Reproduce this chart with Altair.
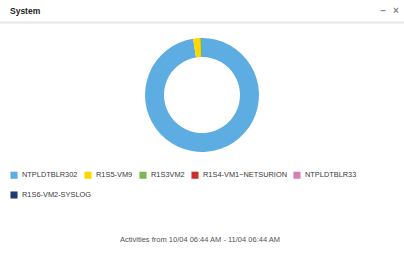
import altair as alt
import pandas as pd

hosts = ["NTPLDTBLR302", "R1S5-VM9", "R1S3VM2", "R1S4-VM1~NETSURION", "NTPLDTBLR33", "R1S6-VM2-SYSLOG"]
counts = [97.5, 2.0, 0.5, 0.0, 0.0, 0.0]
colors = ["#5dade2", "#ffd700", "#7cb552", "#c9302c", "#d77fb2", "#1f3a6e"]
title_text = "System"
footer_text = "Activities from 10/04 06:44 AM - 11/04 06:44 AM"

df = pd.DataFrame({"host": hosts, "count": counts, "order": list(range(len(hosts)))})

FONT = "Liberation Sans"

legend_common = dict(
    title=None,
    orient="none",
    direction="horizontal",
    symbolType="square",
    symbolSize=50,
    symbolStrokeWidth=0,
    symbolOpacity=1,
    labelFont=FONT,
    labelFontSize=7.4,
    labelColor="#3a3a3a",
    columnPadding=6,
    labelOffset=4,
)

arc = alt.Chart(df).mark_arc(outerRadius=57, innerRadius=38, stroke=None).encode(
    theta=alt.Theta("count:Q", stack=True),
    order=alt.Order("order:Q"),
    color=alt.Color(
        "host:N",
        scale=alt.Scale(domain=hosts, range=colors),
        sort=hosts,
        legend=alt.Legend(values=hosts[:5], legendX=10, legendY=171, **legend_common),
    ),
    x=alt.value(202),
    y=alt.value(95),
)

# second legend row (wrapped item)
row2 = alt.Chart(df).transform_filter(
    alt.datum.host == hosts[5]
).mark_square(opacity=0, size=0).encode(
    fill=alt.Fill(
        "host:N",
        scale=alt.Scale(domain=hosts[5:], range=colors[5:]),
        legend=alt.Legend(legendX=10, legendY=191, **legend_common),
    ),
    x=alt.value(202),
    y=alt.value(95),
)

hdr = pd.DataFrame({"t": [title_text]})
title = alt.Chart(hdr).mark_text(
    font=FONT, fontSize=8.5, fontWeight="bold", align="left", baseline="middle", color="#222222"
).encode(text="t:N", x=alt.value(10), y=alt.value(11))

icons = alt.Chart(pd.DataFrame({"t": ["–", "×"], "px": [383, 396]})).mark_text(
    font=FONT, fontSize=10, fontWeight="bold", align="center", baseline="middle", color="#888888"
).encode(text="t:N", x=alt.X("px:Q", scale=None), y=alt.value(11))

sep = alt.Chart(hdr).mark_rule(color="#ebebeb", strokeWidth=2.5).encode(
    x=alt.value(0), x2=alt.value(404), y=alt.value(22.5)
)

footer = alt.Chart(pd.DataFrame({"t": [footer_text]})).mark_text(
    font=FONT, fontSize=7.5, align="center", baseline="middle", color="#555555"
).encode(text="t:N", x=alt.value(200), y=alt.value(240))

chart = alt.layer(sep, title, icons, arc, row2, footer).properties(
    width=404, height=253, padding=0, autosize=alt.AutoSizeParams(type="none"),
    background="white",
).configure_view(stroke=None)

chart.save("out.html", embed_options={"renderer": "svg", "actions": False})
